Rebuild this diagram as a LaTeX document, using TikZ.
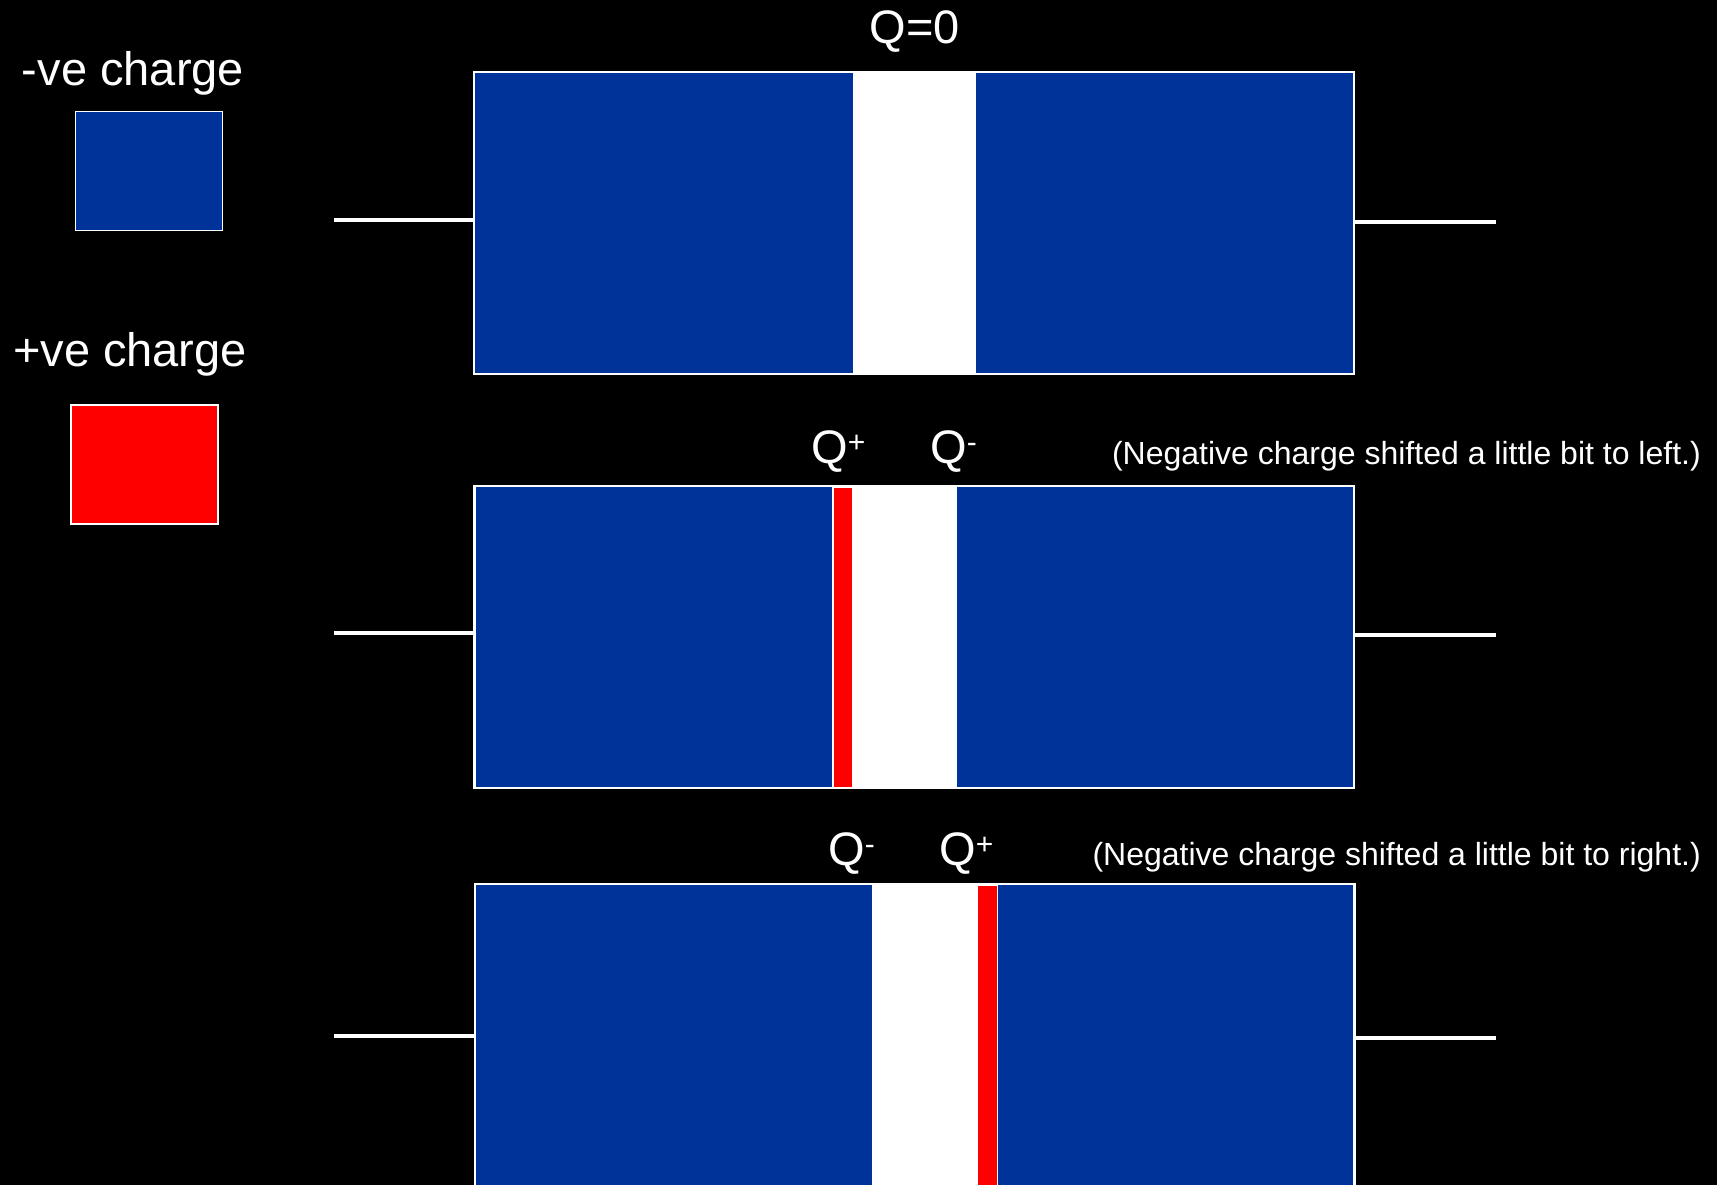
\documentclass[tikz,border=0pt]{standalone}
\usepackage{fontspec}
\setmainfont{Liberation Sans}
\definecolor{chargeblue}{HTML}{003399}
\definecolor{chargered}{HTML}{FF0000}
\newcommand\chargeq[1]{Q\raisebox{11pt}{\fontsize{30}{30}\selectfont #1}}
\tikzset{
  plate/.style={draw=white, line width=2pt, fill=white, minimum width=880pt,
    minimum height=302pt, inner sep=0pt, outer sep=0pt},
  lead/.style={draw=white, line width=4pt},
  negfill/.style={fill=chargeblue},
  posfill/.style={fill=chargered, draw=white, line width=0.8pt},
  keybox/.style={draw=white, line width=1.5pt, minimum width=147pt,
    minimum height=119pt, inner sep=0pt, anchor=north west},
  bigtext/.style={text=white, font=\fontsize{47}{56}\selectfont, inner sep=0pt},
  notetext/.style={text=white, font=\fontsize{32}{38}\selectfont, inner sep=0pt},
}
\begin{document}
\begin{tikzpicture}[x=1pt,y=-1pt]
\fill[black] (0,0) rectangle (1717,1185);
\useasboundingbox (0,0) rectangle (1717,1185);

% legend
\node[bigtext, anchor=base] (negtxt) at (133,86) {-ve charge};
\node[keybox, fill=chargeblue] (negkey) at (74.5,111) {};
\node[bigtext, anchor=base] (postxt) at (130,366) {+ve charge};
\node[keybox, fill=chargered] (poskey) at (70,404) {};

% plate 1: neutral
\node[plate] (p1) at (914,223) {};
\fill[negfill] (475,73) rectangle (853,373);
\fill[negfill] (976,73) rectangle (1353,373);
\node[bigtext, anchor=base] (q0) at (915,44) {Q=0};
\coordinate (l1) at (334,220);
\coordinate (r1) at (1496,222);
\draw[lead] (l1) -- (l1 -| p1.west);
\draw[lead] (p1.east |- r1) -- (r1);

% plate 2: negative charge shifted to the left
\node[plate] (p2) at (914,637) {};
\fill[negfill] (476,487) rectangle (832,787);
\fill[negfill] (957,487) rectangle (1353,787);
\filldraw[posfill] (833,487) rectangle (852,787);
\node[bigtext, anchor=base west] (q2p) at (811,463) {\chargeq{+}};
\node[bigtext, anchor=base west] (q2n) at (930,463) {\chargeq{-}};
\node[notetext, anchor=base east] (n2) at (1701,464) {(Negative charge shifted a little bit to left.)};
\coordinate (l2) at (334,633);
\coordinate (r2) at (1496,635);
\draw[lead] (l2) -- (l2 -| p2.west);
\draw[lead] (p2.east |- r2) -- (r2);

% plate 3: negative charge shifted to the right
\node[plate] (p3) at (914.5,1035) {};
\fill[negfill] (476,885) rectangle (872,1190);
\fill[negfill] (998,885) rectangle (1353,1190);
\filldraw[posfill] (977,885) rectangle (997,1190);
\node[bigtext, anchor=base west] (q3n) at (828,865) {\chargeq{-}};
\node[bigtext, anchor=base west] (q3p) at (939,865) {\chargeq{+}};
\node[notetext, anchor=base east] (n3) at (1701,865) {(Negative charge shifted a little bit to right.)};
\coordinate (l3) at (334,1036);
\coordinate (r3) at (1496,1038);
\draw[lead] (l3) -- (l3 -| p3.west);
\draw[lead] (p3.east |- r3) -- (r3);
\end{tikzpicture}
\end{document}
